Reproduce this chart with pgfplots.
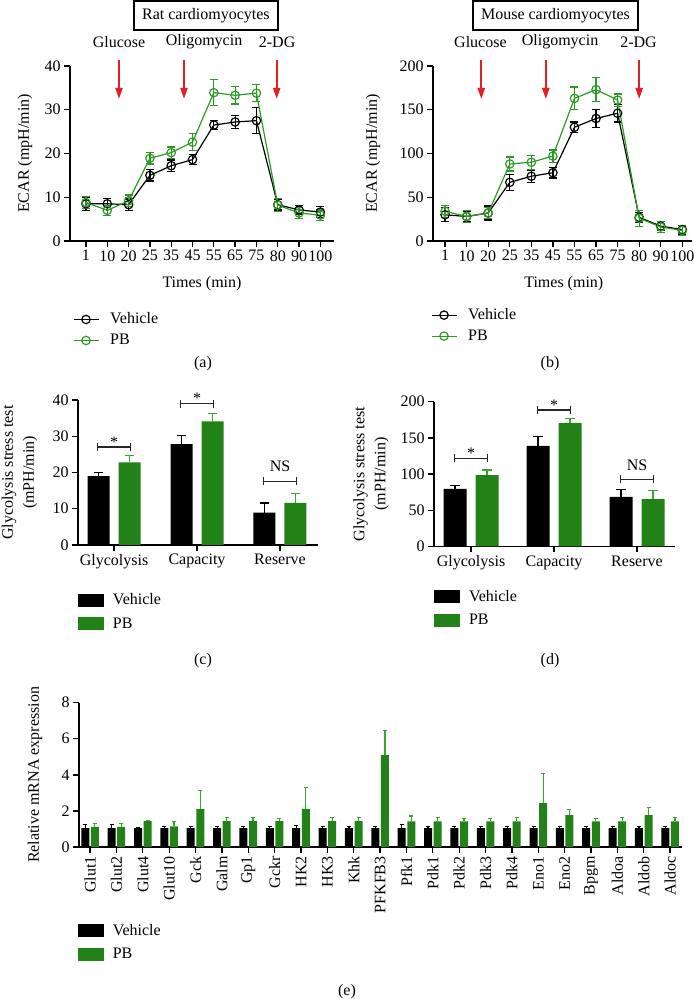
\documentclass[border=0pt]{standalone}
\usepackage{fontspec}
\setmainfont{Liberation Serif}
\usepackage{pgfplots}
\usepackage{pgfplotstable}
\pgfplotsset{compat=1.18}
\usetikzlibrary{arrows.meta}
\definecolor{lgreen}{RGB}{45,155,35}
\definecolor{bgreen}{RGB}{34,130,24}
\definecolor{egreen}{RGB}{60,165,50}
\definecolor{ared}{RGB}{230,30,35}
\tikzset{redarrow/.style={ared, line width=0.85pt, -{Triangle[length=5.5pt,width=3.6pt]}},
  brk/.style={line width=0.65pt, black!85}}

\pgfplotstableread[row sep=\\]{x y e\\
0 8.5 1.5\\ 1 8.5 1.3\\ 2 8.3 1.3\\ 3 15 1.3\\ 4 17.2 1.3\\ 5 18.6 1.2\\
6 26.5 1.1\\ 7 27.2 1.5\\ 8 27.5 3\\ 9 8.3 1.2\\ 10 7.1 1\\ 11 6.6 1.2\\}\ratveh
\pgfplotstableread[row sep=\\]{x y e\\
0 8.8 1.3\\ 1 7 1.2\\ 2 9.2 1.3\\ 3 18.9 1.3\\ 4 20.2 1.3\\ 5 22.6 2\\
6 33.9 3\\ 7 33.3 2\\ 8 33.8 2\\ 9 8.2 1.5\\ 10 6.4 1.2\\ 11 5.9 1.2\\}\ratpb
\pgfplotstableread[row sep=\\]{x y e\\
0 30 8\\ 1 28 6\\ 2 32 8\\ 3 67 9\\ 4 74 7\\ 5 78 6\\
6 130 6\\ 7 140 10\\ 8 146 10\\ 9 27 6\\ 10 17 5\\ 11 13 5\\}\mouveh
\pgfplotstableread[row sep=\\]{x y e\\
0 34 7\\ 1 28 7\\ 2 32 6\\ 3 88 8\\ 4 90 8\\ 5 97 7\\
6 163 13\\ 7 173 14\\ 8 161 7\\ 9 26 9\\ 10 16 6\\ 11 12 6\\}\moupb
\pgfplotstableread[row sep=\\]{x y e\\ 0 19 1\\ 1 27.8 2.5\\ 2 8.9 2.7\\}\cveh
\pgfplotstableread[row sep=\\]{x y e\\ 0 22.8 1.9\\ 1 34.1 2.1\\ 2 11.6 2.6\\}\cpb
\pgfplotstableread[row sep=\\]{x y e\\ 0 79.7 5\\ 1 138.9 12.5\\ 2 68.6 10.5\\}\dveh
\pgfplotstableread[row sep=\\]{x y e\\ 0 98.6 7\\ 1 170.4 6\\ 2 65.3 12\\}\dpb
\pgfplotstableread[row sep=\\]{x y e\\
0 1.05 0.2\\ 1 1.05 0.2\\ 2 1.05 0.05\\ 3 1.05 0.1\\ 4 1.05 0.1\\ 5 1.05 0.1\\
6 1.05 0.1\\ 7 1.05 0.1\\ 8 1.05 0.15\\ 9 1.05 0.1\\ 10 1.05 0.1\\ 11 1.05 0.1\\
12 1.05 0.18\\ 13 1.05 0.1\\ 14 1.05 0.1\\ 15 1.05 0.1\\ 16 1.05 0.1\\ 17 1.05 0.1\\
18 1.05 0.1\\ 19 1.05 0.1\\ 20 1.05 0.1\\ 21 1.05 0.1\\ 22 1.05 0.1\\}\evehicle
\pgfplotstableread[row sep=\\]{x y e\\
0 1.12 0.17\\ 1 1.12 0.17\\ 2 1.44 0.03\\ 3 1.14 0.26\\ 4 2.10 1.03\\ 5 1.43 0.2\\
6 1.43 0.2\\ 7 1.43 0.14\\ 8 2.12 1.2\\ 9 1.43 0.2\\ 10 1.43 0.2\\ 11 5.09 1.36\\
12 1.42 0.3\\ 13 1.42 0.2\\ 14 1.42 0.15\\ 15 1.42 0.15\\ 16 1.42 0.2\\ 17 2.43 1.63\\
18 1.77 0.3\\ 19 1.42 0.15\\ 20 1.42 0.2\\ 21 1.77 0.42\\ 22 1.42 0.2\\}\epb

\pgfplotsset{
  base/.style={
    scale only axis,
    anchor=south west,
    axis lines=left,
    axis line style={-, line width=0.65pt},
    tick align=outside,
    major tick length=3pt,
    tick style={line width=0.65pt, black},
    font=\fontsize{8}{10}\selectfont,
    tick label style={font=\fontsize{8}{10}\selectfont, inner sep=1.5pt},
    /pgf/number format/assume math mode=true,
    clip=false,
    legend cell align=left,
  },
  linelegend/.style={
    legend image code/.code={\draw[mark repeat=2,mark phase=2,##1] plot coordinates {(0pt,0pt) (6.25pt,0pt) (12.5pt,0pt)}; \path (17.5pt,0pt);},
    legend style={draw=none, fill=none, inner sep=0pt, outer sep=0pt, row sep=2pt,
      font=\fontsize{8}{10}\selectfont, nodes={inner sep=0.5pt, text height=6pt, text depth=1.5pt}},
  },
  barlegend/.style={
    legend image code/.code={\fill[##1] (0pt,-3.25pt) rectangle (13pt,3.25pt); \path (17pt,0pt);},
    legend style={draw=none, fill=none, inner sep=0pt, outer sep=0pt, row sep=3.4pt,
      font=\fontsize{8}{10}\selectfont, nodes={inner sep=0.5pt, text height=6pt, text depth=1.5pt}},
  },
  vline/.style={black, line width=0.6pt, mark=o, mark size=2.1pt, mark options={line width=0.6pt},
    error bars/.cd, y dir=both, y explicit, error bar style={line width=0.6pt, black},
    error mark options={rotate=90, mark size=2pt, line width=0.6pt, black}},
  gline/.style={lgreen, line width=0.6pt, mark=o, mark size=2.1pt, mark options={line width=0.6pt},
    error bars/.cd, y dir=both, y explicit, error bar style={line width=0.6pt, lgreen},
    error mark options={rotate=90, mark size=2pt, line width=0.6pt, lgreen}},
  vbar/.style={fill=black, draw=none,
    error bars/.cd, y dir=plus, y explicit, error bar style={line width=0.6pt, black},
    error mark options={rotate=90, mark size=#1, line width=0.6pt, black}},
  gbar/.style={fill=bgreen, draw=none,
    error bars/.cd, y dir=plus, y explicit, error bar style={line width=0.6pt, egreen},
    error mark options={rotate=90, mark size=#1, line width=0.6pt, egreen}},
}

\begin{document}
\fontsize{8}{10}\selectfont
\begin{tikzpicture}
\useasboundingbox (0,0) rectangle (347pt,499.5pt);

% ---------------- (a) ----------------
\begin{axis}[base, linelegend,
  at={(35pt,379pt)}, width=132pt, height=87.5pt,
  xmin=-0.75, xmax=11.64, ymin=0, ymax=40,
  xtick={0,...,11}, xticklabels={1,10,20,25,35,45,55,65,75,80,90,100},
  ytick={0,10,20,30,40},
  xlabel={Times (min)}, ylabel={ECAR (mpH/min)},
  xlabel style={at={(axis description cs:0.5,-0.246)}, anchor=center},
  ylabel style={at={(axis description cs:-0.17,0.5)}, anchor=center},
  legend style={at={(axis description cs:0.011,-0.40)}, anchor=north west},
]
\addplot[vline] table[x=x, y=y, y error=e] {\ratveh};
\addplot[gline] table[x=x, y=y, y error=e] {\ratpb};
\legend{Vehicle, PB}
\draw[redarrow] (axis cs:1.55,41.4) -- (axis cs:1.55,32.5);
\draw[redarrow] (axis cs:4.6,41.4) -- (axis cs:4.6,32.5);
\draw[redarrow] (axis cs:8.95,41.4) -- (axis cs:8.95,32.5);
\node at (axis cs:1.55,45.5) {Glucose};
\node at (axis cs:5.54,45.5) {Oligomycin};
\node at (axis cs:8.97,45.5) {2-DG};
\node[draw, line width=1pt, inner xsep=4pt, minimum height=14.5pt] at (axis cs:5.63,51.5) {Rat cardiomyocytes};
\end{axis}

% ---------------- (b) ----------------
\begin{axis}[base, linelegend,
  at={(216.5pt,379pt)}, width=129.5pt, height=87.5pt,
  xmin=-0.56, xmax=11.45, ymin=0, ymax=200,
  xtick={0,...,11}, xticklabels={1,10,20,25,35,45,55,65,75,80,90,100},
  ytick={0,50,100,150,200},
  xlabel={Times (min)}, ylabel={ECAR (mpH/min)},
  xlabel style={at={(axis description cs:0.505,-0.246)}, anchor=center},
  ylabel style={at={(axis description cs:-0.232,0.5)}, anchor=center},
  legend style={at={(axis description cs:-0.008,-0.375)}, anchor=north west},
]
\addplot[vline] table[x=x, y=y, y error=e] {\mouveh};
\addplot[gline] table[x=x, y=y, y error=e] {\moupb};
\legend{Vehicle, PB}
\draw[redarrow] (axis cs:1.68,206.9) -- (axis cs:1.68,162.3);
\draw[redarrow] (axis cs:4.67,206.9) -- (axis cs:4.67,162.3);
\draw[redarrow] (axis cs:9.0,206.9) -- (axis cs:9.0,162.3);
\node at (axis cs:1.64,227.4) {Glucose};
\node at (axis cs:5.33,227.4) {Oligomycin};
\node at (axis cs:8.97,227.4) {2-DG};
\node[draw, line width=1pt, inner xsep=4pt, minimum height=14.5pt] at (axis cs:5.12,257.7) {Mouse cardiomyocytes};
\end{axis}

% ---------------- (c) ----------------
\begin{axis}[base,
  at={(39pt,227pt)}, width=120pt, height=72.5pt,
  ybar=4.5pt, bar width=11pt, barlegend,
  xmin=-0.434, xmax=2.458, ymin=0, ymax=40,
  xtick={0,1,2}, xticklabels={Glycolysis,Capacity,Reserve},
  ytick={0,10,20,30,40},
  ylabel={Glycolysis stress test\\(mPH/min)},
  ylabel style={align=center, font=\fontsize{8}{10.5}\selectfont, at={(axis description cs:-0.244,0.5)}, anchor=center},
  legend style={at={(axis description cs:0,-0.321)}, anchor=north west},
]
\addplot[vbar=2.3pt] table[x=x, y=y, y error=e] {\cveh};
\addplot[gbar=2.3pt] table[x=x, y=y, y error=e] {\cpb};
\legend{Vehicle, PB}
\draw[brk] (axis cs:-0.2,27) -- (axis cs:0.2,27);
\draw[brk] (axis cs:-0.2,25.9) -- (axis cs:-0.2,28.1);
\draw[brk] (axis cs:0.2,25.9) -- (axis cs:0.2,28.1);
\draw[brk] (axis cs:0.8,39) -- (axis cs:1.2,39);
\draw[brk] (axis cs:0.8,37.9) -- (axis cs:0.8,40.1);
\draw[brk] (axis cs:1.2,37.9) -- (axis cs:1.2,40.1);
\draw[brk] (axis cs:1.8,17.6) -- (axis cs:2.2,17.6);
\draw[brk] (axis cs:1.8,16.5) -- (axis cs:1.8,18.7);
\draw[brk] (axis cs:2.2,16.5) -- (axis cs:2.2,18.7);
\node[anchor=base, inner sep=0pt] at (axis cs:0,27) {*};
\node[anchor=base, inner sep=0pt] at (axis cs:1,39) {*};
\node[anchor=base, inner sep=0pt, yshift=4.85pt] at (axis cs:2,17.6) {NS};
\end{axis}

% ---------------- (d) ----------------
\begin{axis}[base,
  at={(217pt,226.25pt)}, width=120.5pt, height=72.4pt,
  ybar=4.5pt, bar width=11.5pt, barlegend,
  xmin=-0.446, xmax=2.458, ymin=0, ymax=200,
  xtick={0,1,2}, xticklabels={Glycolysis,Capacity,Reserve},
  ytick={0,50,100,150,200},
  ylabel={Glycolysis stress test\\(mPH/min)},
  ylabel style={align=center, font=\fontsize{8}{10.5}\selectfont, at={(axis description cs:-0.261,0.5)}, anchor=center},
  legend style={at={(axis description cs:0,-0.287)}, anchor=north west},
]
\addplot[vbar=2.3pt] table[x=x, y=y, y error=e] {\dveh};
\addplot[gbar=2.3pt] table[x=x, y=y, y error=e] {\dpb};
\legend{Vehicle, PB}
\draw[brk] (axis cs:-0.2,121.8) -- (axis cs:0.2,121.8);
\draw[brk] (axis cs:-0.2,116.3) -- (axis cs:-0.2,127.3);
\draw[brk] (axis cs:0.2,116.3) -- (axis cs:0.2,127.3);
\draw[brk] (axis cs:0.8,188.5) -- (axis cs:1.2,188.5);
\draw[brk] (axis cs:0.8,183) -- (axis cs:0.8,194);
\draw[brk] (axis cs:1.2,183) -- (axis cs:1.2,194);
\draw[brk] (axis cs:1.8,92.6) -- (axis cs:2.2,92.6);
\draw[brk] (axis cs:1.8,87.1) -- (axis cs:1.8,98.1);
\draw[brk] (axis cs:2.2,87.1) -- (axis cs:2.2,98.1);
\node[anchor=base, inner sep=0pt] at (axis cs:0,121.8) {*};
\node[anchor=base, inner sep=0pt] at (axis cs:1,188.5) {*};
\node[anchor=base, inner sep=0pt, yshift=4.6pt] at (axis cs:2,92.6) {NS};
\end{axis}

% ---------------- (e) ----------------
\begin{axis}[base,
  at={(39.5pt,76pt)}, width=301.5pt, height=72.15pt,
  ybar=0.8pt, bar width=4pt, barlegend,
  xmin=-0.42, xmax=22.45, ymin=0, ymax=8,
  xtick={0,...,22},
  xticklabels={Glut1,Glut2,Glut4,Glut10,Gck,Galm,Gp1,Gckr,HK2,HK3,Khk,PFKFB3,Pfk1,Pdk1,Pdk2,Pdk3,Pdk4,Eno1,Eno2,Bpgm,Aldoa,Aldob,Aldoc},
  xticklabel style={rotate=90, anchor=east},
  ytick={0,2,4,6,8},
  ylabel={Relative mRNA expression},
  ylabel style={at={(axis description cs:-0.073,0.5)}, anchor=center},
  legend style={at={(axis description cs:-0.002,-0.52)}, anchor=north west},
]
\addplot[vbar=1pt] table[x=x, y=y, y error=e] {\evehicle};
\addplot[gbar=1pt] table[x=x, y=y, y error=e] {\epb};
\legend{Vehicle, PB}
\end{axis}

\node at (101.5pt,317.5pt) {(a)};
\node at (275pt,317.5pt) {(b)};
\node at (101.5pt,169pt) {(c)};
\node at (275pt,169pt) {(d)};
\node at (173.5pt,3.5pt) {(e)};
\end{tikzpicture}
\end{document}
